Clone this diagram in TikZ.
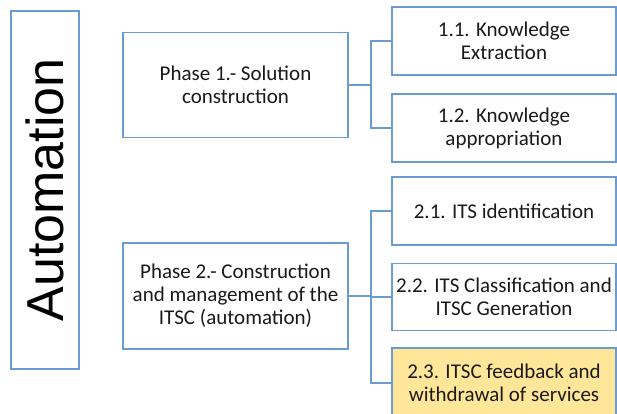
\documentclass[tikz,border=0pt]{standalone}
\usepackage{fontspec}
\setmainfont{Carlito}
\newfontfamily\arialf{Liberation Sans}
\definecolor{boxblue}{HTML}{6A9BD3}
\definecolor{goldfill}{HTML}{FFE699}
\definecolor{txt}{HTML}{1A1A1A}
\tikzset{
  bx/.style={draw=boxblue, line width=1.6pt, fill=white, inner sep=0pt, outer sep=0pt,
    align=center, text=txt, font=\fontsize{21}{23}\selectfont},
  conn/.style={draw=boxblue, line width=2pt},
}
\begin{document}
\begin{tikzpicture}[x=1pt,y=-1pt]
\useasboundingbox (0,0) rectangle (617,413);
\fill[white] (0,0) rectangle (617,413);
\node[bx, rotate=90, minimum width=358pt, minimum height=68pt, font=\arialf\fontsize{52}{56}\selectfont, text=black] (auto) at (45,190) {Automation};
\node[bx, minimum width=225pt, minimum height=105pt] (p1) at (235.5,85) {Phase 1.- Solution\\construction};
\node[bx, minimum width=225pt, minimum height=106pt] (p2) at (235.5,296) {Phase 2.- Construction\\and management of the\\ITSC (automation)};
\node[bx, minimum width=224pt, minimum height=68pt] (k11) at (504,41) {1.1. Knowledge\\Extraction};
\node[bx, minimum width=224pt, minimum height=68pt] (k12) at (504,128) {1.2. Knowledge\\appropriation};
\node[bx, minimum width=224pt, minimum height=68pt] (i21) at (504,211) {2.1. ITS identification};
\node[bx, minimum width=224pt, minimum height=67pt] (i22) at (504,297) {2.2. ITS Classification and\\ITSC Generation};
\node[bx, fill=goldfill, minimum width=224pt, minimum height=70pt] (i23) at (504,383) {2.3. ITSC feedback and\\withdrawal of services};
\coordinate (j1) at ([xshift=23pt]p1.east);
\coordinate (j2) at ([xshift=23pt]p2.east);
\draw[conn] (k11.west) -| (j1) |- (k12.west);
\draw[conn] (p1.east) -- (j1);
\draw[conn] (i21.west) -| (j2) |- (i23.west);
\draw[conn] (p2.east) -- (j2) -- (j2 |- i22.west) -- (i22.west);
\end{tikzpicture}
\end{document}
